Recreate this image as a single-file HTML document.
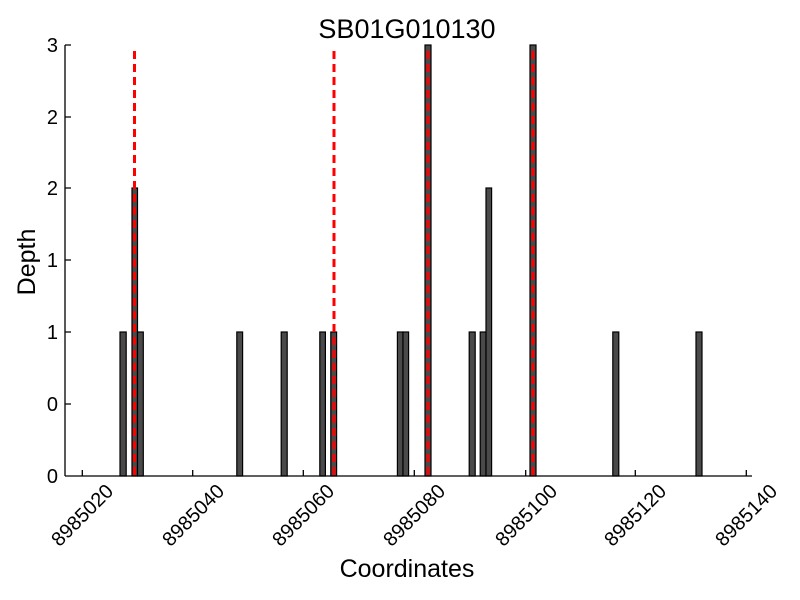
<!DOCTYPE html>
<html><head><meta charset="utf-8"><style>body{margin:0;background:#fff}svg{display:block}text{font-family:"Liberation Sans",sans-serif;fill:#000}</style></head><body>
<svg width="800" height="600" viewBox="0 0 800 600">
<g fill="#4a4a4a" stroke="#000" stroke-width="1.2">
<rect x="120" y="332" width="6.2" height="144"/>
<rect x="132" y="188" width="5.5" height="288"/>
<rect x="137.5" y="332" width="5.8" height="144"/>
<rect x="236.8" y="332" width="5.8" height="144"/>
<rect x="281.2" y="332" width="6" height="144"/>
<rect x="319.8" y="332" width="5.6" height="144"/>
<rect x="330.8" y="332" width="5.8" height="144"/>
<rect x="397.4" y="332" width="5.6" height="144"/>
<rect x="403" y="332" width="5.6" height="144"/>
<rect x="425" y="45" width="6" height="431"/>
<rect x="469.2" y="332" width="6" height="144"/>
<rect x="480.2" y="332" width="5.8" height="144"/>
<rect x="486" y="188" width="5.6" height="288"/>
<rect x="530" y="45" width="6" height="431"/>
<rect x="612.8" y="332" width="6" height="144"/>
<rect x="696" y="332" width="6" height="144"/>
</g>
<g stroke="#f00" stroke-width="3" stroke-dasharray="8,5">
<line x1="134.5" y1="51" x2="134.5" y2="476"/>
<line x1="334" y1="51" x2="334" y2="476"/>
<line x1="428" y1="51" x2="428" y2="476"/>
<line x1="533" y1="51" x2="533" y2="476"/>
</g>
<g stroke="#000" stroke-width="1.3" fill="none">
<line x1="65" y1="45" x2="65" y2="476"/>
<line x1="65" y1="476" x2="752" y2="476"/>
<path d="M65 45h6M65 117h6M65 188h6M65 260h6M65 332h6M65 404h6"/>
<path d="M82.3 476v-6M192.7 476v-6M303.3 476v-6M414.3 476v-6M525.7 476v-6M635.3 476v-6M746.3 476v-6"/>
</g>
<g font-size="20" text-anchor="end">
<text x="58" y="52">3</text><text x="58" y="124">2</text><text x="58" y="195">2</text><text x="58" y="267">1</text><text x="58" y="339">1</text><text x="58" y="411">0</text><text x="58" y="483">0</text>
</g>
<g font-size="20" text-anchor="middle">
<text transform="translate(82,515) rotate(-45)" dy="7">8985020</text>
<text transform="translate(193,515) rotate(-45)" dy="7">8985040</text>
<text transform="translate(303,515) rotate(-45)" dy="7">8985060</text>
<text transform="translate(414,515) rotate(-45)" dy="7">8985080</text>
<text transform="translate(526,515) rotate(-45)" dy="7">8985100</text>
<text transform="translate(635,515) rotate(-45)" dy="7">8985120</text>
<text transform="translate(746,515) rotate(-45)" dy="7">8985140</text>
</g>
<text x="407" y="38" font-size="27" text-anchor="middle">SB01G010130</text>
<text x="407" y="577" font-size="25" text-anchor="middle">Coordinates</text>
<text transform="translate(35,262) rotate(-90)" font-size="25" text-anchor="middle">Depth</text>
</svg>
</body></html>
